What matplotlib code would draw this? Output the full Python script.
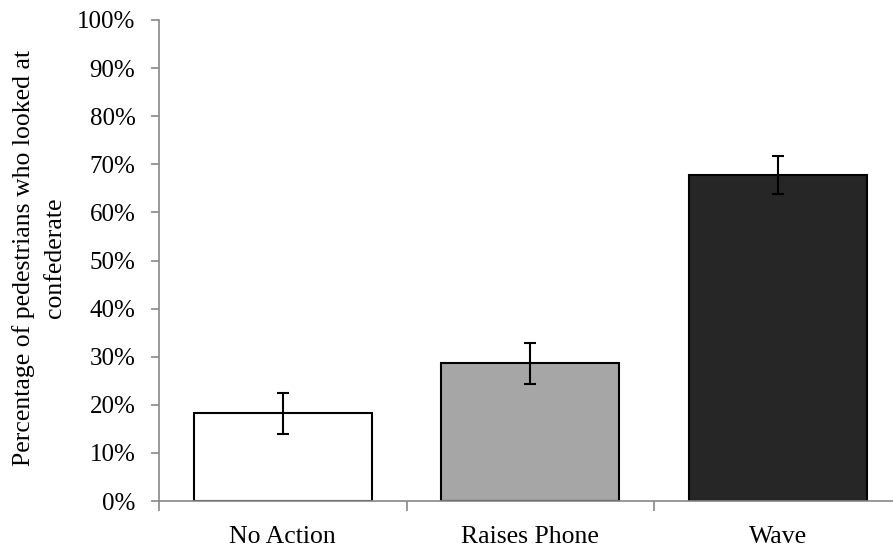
import matplotlib
matplotlib.use("Agg")
import matplotlib.pyplot as plt
from matplotlib.ticker import MultipleLocator, FuncFormatter, FixedLocator

categories = ["No Action", "Raises Phone", "Wave"]
values = [18.2, 28.6, 67.8]
errors = [4.25, 4.2, 4.0]
colors = ["#ffffff", "#a6a6a6", "#262626"]

plt.rcParams['font.family'] = ['Liberation Serif', 'DejaVu Serif']

fig = plt.figure(figsize=(8.93, 5.48), dpi=100)
ax = fig.add_axes([159/893, 47/548, 742.5/893, 481/548])

x = list(range(len(categories)))
ax.bar(x, values, width=0.72, color=colors, edgecolor="black", linewidth=1.5, zorder=2)
ax.errorbar(x, values, yerr=errors, fmt="none", ecolor="black", elinewidth=1.5,
            capsize=4.3, capthick=1.5, zorder=3)

ax.set_xlim(-0.5, 2.5)
ax.set_ylim(0, 100)
ax.yaxis.set_major_locator(MultipleLocator(10))
ax.yaxis.set_major_formatter(FuncFormatter(lambda v, p: f"{int(v)}%"))

ax.set_xticks(x)
ax.set_xticklabels(categories, fontsize=18.5)
ax.tick_params(axis='x', which='major', length=0, pad=18)
ax.xaxis.set_minor_locator(FixedLocator([-0.5, 0.5, 1.5]))
ax.tick_params(axis='x', which='minor', length=7, color="#888888", width=1.2)
ax.tick_params(axis='y', labelsize=18, length=6, color="#888888", width=1.2, pad=11)

for s in ["top", "right"]:
    ax.spines[s].set_visible(False)
for s in ["left", "bottom"]:
    ax.spines[s].set_color("#888888")
    ax.spines[s].set_linewidth(1.2)

fig.text(39/893, 1 - 258/548, "Percentage of pedestrians who looked at\nconfederate",
         fontsize=18.5, rotation=90, ha="center", va="center", multialignment="center",
         linespacing=1.5)

fig.savefig("out.png", dpi=100)
